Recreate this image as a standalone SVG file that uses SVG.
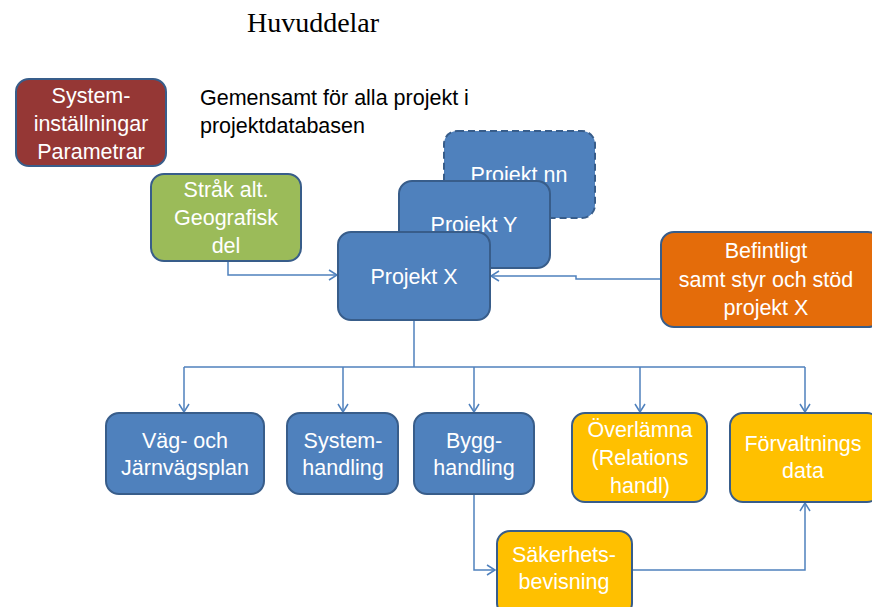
<svg xmlns="http://www.w3.org/2000/svg" width="872" height="607" viewBox="0 0 872 607">
<style>
.box{stroke:#385d8a;stroke-width:2}
.blue{fill:#4f81bd}
.red{fill:#953735}
.green{fill:#9bbb59}
.orange{fill:#e46c0a}
.yellow{fill:#ffc000}
.t{font-family:"Liberation Sans",Arial,sans-serif;font-size:21.5px;fill:#fff;text-anchor:middle}
.k{font-family:"Liberation Sans",Arial,sans-serif;font-size:21.5px;fill:#000}
.c{fill:none;stroke:#4f81bd;stroke-width:1.5}
</style>
<defs>
<marker id="ah" markerWidth="12" markerHeight="12" refX="10" refY="6" orient="auto" markerUnits="userSpaceOnUse">
<path d="M2,1 L10,6 L2,11" fill="none" stroke="#4f81bd" stroke-width="1.5"/>
</marker>
</defs>
<rect width="872" height="607" fill="#fff"/>
<text x="313" y="32" font-family="'Liberation Serif','Times New Roman',serif" font-size="28" text-anchor="middle" fill="#000">Huvuddelar</text>
<text class="k" x="200" y="105">Gemensamt för alla projekt i</text>
<text class="k" x="200" y="133">projektdatabasen</text>

<g id="connectors">
<path class="c" d="M228,261 V275 H337" marker-end="url(#ah)"/>
<path class="c" d="M661,279 H576 V276 H491" marker-end="url(#ah)"/>
<path class="c" d="M414,320 V367"/>
<path class="c" d="M184,367 H805"/>
<path class="c" d="M184,367 V412" marker-end="url(#ah)"/>
<path class="c" d="M343,367 V412" marker-end="url(#ah)"/>
<path class="c" d="M474,367 V412" marker-end="url(#ah)"/>
<path class="c" d="M640,367 V412" marker-end="url(#ah)"/>
<path class="c" d="M805,367 V412" marker-end="url(#ah)"/>
<path class="c" d="M474,494 V570 H495" marker-end="url(#ah)"/>
<path class="c" d="M632,570 H805 V503" marker-end="url(#ah)"/>
</g>

<g id="systeminstallningar">
<rect class="box red" x="16" y="79" width="150" height="87" rx="13"/>
<text class="t" x="91" y="103">System-</text>
<text class="t" x="91" y="131">inställningar</text>
<text class="t" x="91" y="159">Parametrar</text>
</g>
<g id="strak">
<rect class="box green" x="151" y="174" width="150" height="87" rx="13"/>
<text class="t" x="226" y="197">Stråk alt.</text>
<text class="t" x="226" y="225">Geografisk</text>
<text class="t" x="226" y="253">del</text>
</g>
<g id="projekt-nn">
<rect class="box blue" x="444" y="131" width="151" height="87" rx="13" stroke-dasharray="7,4"/>
<text class="t" x="519" y="182">Projekt nn</text>
</g>
<g id="projekt-y">
<rect class="box blue" x="399" y="181" width="151" height="87" rx="13"/>
<text class="t" x="474" y="232">Projekt Y</text>
</g>
<g id="projekt-x">
<rect class="box blue" x="338" y="232" width="152" height="88" rx="13"/>
<text class="t" x="414" y="284">Projekt X</text>
</g>
<g id="befintligt">
<rect class="box orange" x="661" y="232" width="220" height="95" rx="13"/>
<text class="t" x="766" y="258">Befintligt</text>
<text class="t" x="766" y="287">samt styr och stöd</text>
<text class="t" x="766" y="315">projekt X</text>
</g>
<g id="vag">
<rect class="box blue" x="106" y="413" width="158" height="81" rx="13"/>
<text class="t" x="185" y="448">Väg- och</text>
<text class="t" x="185" y="475">Järnvägsplan</text>
</g>
<g id="systemhandling">
<rect class="box blue" x="287" y="413" width="111" height="81" rx="13"/>
<text class="t" x="343" y="448">System-</text>
<text class="t" x="343" y="475">handling</text>
</g>
<g id="bygghandling">
<rect class="box blue" x="414" y="413" width="120" height="81" rx="13"/>
<text class="t" x="474" y="448">Bygg-</text>
<text class="t" x="474" y="475">handling</text>
</g>
<g id="overlamna">
<rect class="box yellow" x="572" y="413" width="135" height="89" rx="13"/>
<text class="t" x="640" y="437">Överlämna</text>
<text class="t" x="640" y="465">(Relations</text>
<text class="t" x="640" y="493">handl)</text>
</g>
<g id="forvaltnings">
<rect class="box yellow" x="730" y="413" width="150" height="89" rx="13"/>
<text class="t" x="803" y="451">Förvaltnings</text>
<text class="t" x="803" y="478">data</text>
</g>
<g id="sakerhets">
<rect class="box yellow" x="497" y="531" width="135" height="85" rx="13"/>
<text class="t" x="564" y="562">Säkerhets-</text>
<text class="t" x="564" y="589">bevisning</text>
</g>
</svg>
